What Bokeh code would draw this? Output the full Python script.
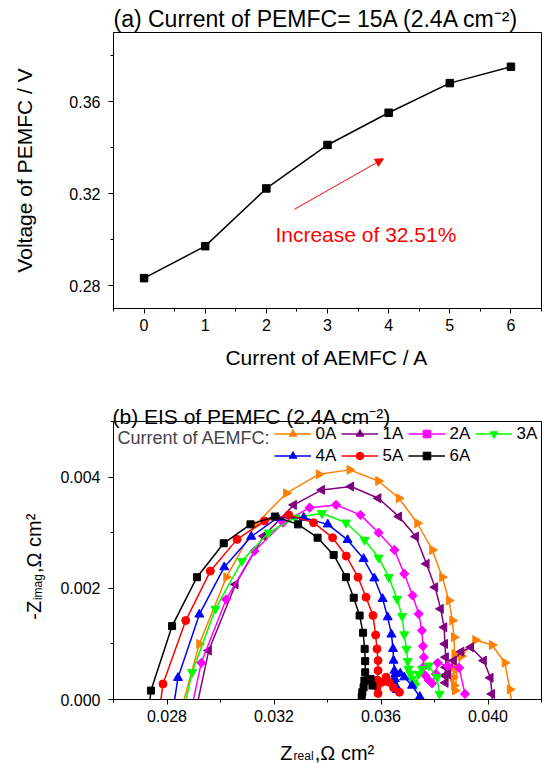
import math
from bokeh.plotting import figure
from bokeh.models import (FixedTicker, PrintfTickFormatter, Label, Arrow, NormalHead,
                          Legend, LegendItem, Range1d, Title)
from bokeh.layouts import column
from bokeh.embed import file_html
from bokeh.resources import INLINE

FONT = "Liberation Sans"

# ---------------- data: panel (a) ----------------
aemfc_current = [0, 1, 2, 3, 4, 5, 6]
pemfc_voltage = [0.2832, 0.2971, 0.3222, 0.3411, 0.3551, 0.3680, 0.3751]

a_x_ticks = [0, 1, 2, 3, 4, 5, 6]
a_x_minor = [-0.5, 0.5, 1.5, 2.5, 3.5, 4.5, 5.5, 6.5]
a_y_ticks = [0.28, 0.32, 0.36]
a_y_minor = [0.30, 0.34, 0.38]

# ---------------- data: panel (b) EIS ----------------
zr_0A = [0.02852, 0.02921, 0.03022, 0.03130, 0.03246, 0.03368, 0.03483, 0.03590, 0.03667, 0.03736,
         0.03792, 0.03829, 0.03854, 0.03867, 0.03873, 0.03875, 0.03873, 0.03870, 0.03873, 0.03877,
         0.03885, 0.03900, 0.03953, 0.04015, 0.04063, 0.04082, 0.04092]
zi_0A = [-0.0002, 0.00100, 0.00220, 0.00314, 0.00371, 0.00405, 0.00413, 0.00393, 0.00362, 0.00317,
         0.00269, 0.00220, 0.00178, 0.00142, 0.00112, 0.00082, 0.00058, 0.00040, 0.00025, 0.00016,
         0.00055, 0.00078, 0.00107, 0.00098, 0.00066, 0.00018, -0.0002]

zr_1A = [0.02908, 0.02956, 0.03056, 0.03161, 0.03274, 0.03379, 0.03488, 0.03590, 0.03667, 0.03730,
         0.03770, 0.03802, 0.03823, 0.03836, 0.03839, 0.03842, 0.03842, 0.03839, 0.03841, 0.03850,
         0.03872, 0.03900, 0.03936, 0.03984, 0.04009, 0.04015, 0.04016]
zi_1A = [-0.0002, 0.00088, 0.00207, 0.00294, 0.00350, 0.00377, 0.00383, 0.00362, 0.00329, 0.00293,
         0.00244, 0.00202, 0.00163, 0.00130, 0.00100, 0.00076, 0.00058, 0.00043, 0.00030, 0.00045,
         0.00070, 0.00086, 0.00094, 0.00070, 0.00039, 0.00010, -0.0002]

zr_2A = [0.02890, 0.02928, 0.03021, 0.03127, 0.03234, 0.03333, 0.03432, 0.03523, 0.03591, 0.03650,
         0.03687, 0.03718, 0.03741, 0.03753, 0.03757, 0.03760, 0.03757, 0.03766, 0.03778, 0.03791,
         0.03805, 0.03812, 0.03850, 0.03892, 0.03914]
zi_2A = [-0.0002, 0.00066, 0.00180, 0.00267, 0.00318, 0.00345, 0.00350, 0.00332, 0.00300, 0.00269,
         0.00226, 0.00187, 0.00154, 0.00124, 0.00096, 0.00076, 0.00058, 0.00043, 0.00035, 0.00029,
         0.00046, 0.00066, 0.00060, 0.00057, 0.00010]

zr_3A = [0.02862, 0.02894, 0.02981, 0.03080, 0.03180, 0.03280, 0.03379, 0.03469, 0.03539, 0.03591,
         0.03629, 0.03660, 0.03679, 0.03687, 0.03695, 0.03700, 0.03703, 0.03710, 0.03716, 0.03722,
         0.03728, 0.03741, 0.03753, 0.03778, 0.03809, 0.03819]
zi_3A = [-0.0002, 0.00049, 0.00163, 0.00249, 0.00300, 0.00327, 0.00335, 0.00318, 0.00287, 0.00255,
         0.00220, 0.00181, 0.00150, 0.00117, 0.00091, 0.00069, 0.00055, 0.00046, 0.00037, 0.00029,
         0.00025, 0.00046, 0.00055, 0.00061, 0.00040, 0.00010]

zr_4A = [0.02822, 0.02841, 0.02921, 0.03014, 0.03115, 0.03214, 0.03311, 0.03401, 0.03475, 0.03535,
         0.03575, 0.03606, 0.03625, 0.03639, 0.03645, 0.03647, 0.03650, 0.03652, 0.03655, 0.03660,
         0.03645, 0.03654, 0.03672, 0.03687, 0.03716, 0.03745]
zi_4A = [-0.0002, 0.00039, 0.00153, 0.00238, 0.00293, 0.00327, 0.00327, 0.00315, 0.00287, 0.00253,
         0.00218, 0.00181, 0.00148, 0.00117, 0.00091, 0.00070, 0.00052, 0.00037, 0.00025, 0.00017,
         0.00034, 0.00046, 0.00047, 0.00040, 0.00025, 0.00005]

zr_5A = [0.02772, 0.02785, 0.02870, 0.02962, 0.03062, 0.03164, 0.03255, 0.03348, 0.03419, 0.03470,
         0.03514, 0.03544, 0.03570, 0.03580, 0.03585, 0.03589, 0.03589, 0.03586, 0.03586, 0.03589,
         0.03604, 0.03619, 0.03630, 0.03647, 0.03669]
zi_5A = [-0.0002, 0.00028, 0.00142, 0.00231, 0.00288, 0.00321, 0.00332, 0.00318, 0.00291, 0.00258,
         0.00220, 0.00184, 0.00151, 0.00116, 0.00091, 0.00070, 0.00052, 0.00035, 0.00023, 0.00011,
         0.00031, 0.00040, 0.00031, 0.00021, 0.00013]

zr_6A = [0.02732, 0.02740, 0.02819, 0.02912, 0.03012, 0.03112, 0.03203, 0.03290, 0.03363, 0.03423,
         0.03469, 0.03498, 0.03520, 0.03533, 0.03539, 0.03541, 0.03541, 0.03538, 0.03535, 0.03530,
         0.03528, 0.03549, 0.03561, 0.03568]
zi_6A = [-0.0002, 0.00016, 0.00132, 0.00220, 0.00281, 0.00315, 0.00329, 0.00315, 0.00291, 0.00260,
         0.00220, 0.00183, 0.00151, 0.00120, 0.00091, 0.00069, 0.00049, 0.00034, 0.00022, 0.00013,
         0.00005, 0.00034, 0.00037, 0.00025]

series_names = ["0A", "1A", "2A", "3A", "4A", "5A", "6A"]
series_zr = [zr_0A, zr_1A, zr_2A, zr_3A, zr_4A, zr_5A, zr_6A]
series_zi = [zi_0A, zi_1A, zi_2A, zi_3A, zi_4A, zi_5A, zi_6A]
series_colors = ["#FF8000", "#800080", "#FF00FF", "#00FF00", "#0000FF", "#FF0000", "#000000"]
series_markers = ["triangle", "triangle", "square", "inverted_triangle", "triangle", "circle", "square"]
series_angles = [-math.pi / 2, math.pi / 2, math.pi / 4, 0.0, 0.0, 0.0, 0.0]
series_sizes = [9, 9, 6.5, 9, 9, 8, 7]

b_x_ticks = [0.028, 0.032, 0.036, 0.040]
b_x_minor = [0.026, 0.030, 0.034, 0.038, 0.042]
b_y_ticks = [0.000, 0.002, 0.004]
b_y_minor = [0.001, 0.003, 0.005]

# ---------------- helpers ----------------
NB = "\u00a0"
W = {' ': 278, NB: 278, '(': 333, ')': 333, '-': 333, '.': 278, ',': 278, '/': 278,
     ':': 278, '=': 584, '%': 889, 'A': 667, 'C': 722, 'E': 667, 'F': 611, 'I': 278,
     'M': 833, 'P': 667, 'S': 667, 'V': 667, 'Z': 611, 'a': 556, 'b': 556, 'c': 500,
     'e': 556, 'f': 278, 'g': 556, 'i': 222, 'l': 222, 'm': 833, 'n': 556, 'o': 556,
     'r': 333, 's': 500, 't': 278, 'u': 556, '\u03a9': 768, '\u00b2': 333}


def tw(s, size):
    return sum(W.get(c, 556) for c in s) * size / 1000.0


def style(p, xfmt, yfmt):
    for ax in (p.xaxis[0], p.yaxis[0]):
        ax.axis_line_color = "black"
        ax.axis_line_width = 1
        ax.major_tick_line_color = "black"
        ax.minor_tick_line_color = "black"
        ax.major_tick_in = 0
        ax.major_tick_out = 5
        ax.minor_tick_in = 0
        ax.minor_tick_out = 3
        ax.major_label_text_font = FONT
        ax.major_label_text_font_size = "16px"
        ax.major_label_text_color = "black"
        ax.axis_label_text_font = FONT
        ax.axis_label_text_font_style = "normal"
        ax.axis_label_text_color = "black"
    p.xaxis[0].major_label_standoff = 5
    p.yaxis[0].major_label_standoff = 8
    p.xaxis[0].formatter = PrintfTickFormatter(format=xfmt)
    p.yaxis[0].formatter = PrintfTickFormatter(format=yfmt)
    p.xgrid.visible = False
    p.ygrid.visible = False
    p.outline_line_color = "black"
    p.outline_line_width = 1
    p.outline_line_alpha = 1
    p.background_fill_color = "white"
    p.border_fill_color = "white"


# ---------------- panel (a) ----------------
FW, FH1 = 428, 276
p1 = figure(width=543, height=376, x_range=Range1d(-0.5, 6.5),
            y_range=Range1d(0.27, 0.39), output_backend="svg", toolbar_location=None,
            min_border_left=113, min_border_right=2, min_border_top=32, min_border_bottom=68)
p1.title = Title(text="(a) Current of PEMFC= 15A (2.4A cm\u207b\u00b2)", align="left",
                 text_font=FONT, text_font_size="23px", text_font_style="normal",
                 text_color="black", standoff=1, offset=0)
p1.xaxis[0].ticker = FixedTicker(ticks=a_x_ticks, minor_ticks=a_x_minor)
p1.yaxis[0].ticker = FixedTicker(ticks=a_y_ticks, minor_ticks=a_y_minor)
style(p1, "%d", "%.2f")
p1.xaxis[0].axis_label = "Current of AEMFC / A"
p1.xaxis[0].axis_label_text_font_size = "21px"
p1.xaxis[0].axis_label_standoff = 12
p1.yaxis[0].axis_label = "Voltage of PEMFC / V"
p1.yaxis[0].axis_label_text_font_size = "21px"
p1.yaxis[0].axis_label_standoff = 30

p1.line(aemfc_current, pemfc_voltage, line_color="black", line_width=1.5)
p1.scatter(aemfc_current, pemfc_voltage, marker="square", size=7.5,
           fill_color="black", line_color="black")

arrow_start = (2.458, 0.3131)
arrow_end = (3.915, 0.3351)
p1.add_layout(Arrow(end=NormalHead(size=8, fill_color="#FF0000", line_color="#FF0000", line_width=1),
                    x_start=arrow_start[0], y_start=arrow_start[1],
                    x_end=arrow_end[0], y_end=arrow_end[1],
                    line_color="#FF0000", line_width=1))
p1.add_layout(Label(x=2.148, y=0.302, text="Increase of 32.51%", text_color="#FF0000",
                    text_font=FONT, text_font_size="21px", text_align="left",
                    text_baseline="alphabetic"))

# ---------------- panel (b) ----------------
FH2 = 278
BX0, BX1, BY0, BY1 = 0.026, 0.042, 0.0, 0.005
p2 = figure(width=543, height=387, title=None, x_range=Range1d(BX0, BX1),
            y_range=Range1d(BY0, BY1), output_backend="svg", toolbar_location=None,
            min_border_left=113, min_border_right=2, min_border_top=45, min_border_bottom=64)
p2.xaxis[0].ticker = FixedTicker(ticks=b_x_ticks, minor_ticks=b_x_minor)
p2.yaxis[0].ticker = FixedTicker(ticks=b_y_ticks, minor_ticks=b_y_minor)
style(p2, "%.3f", "%.3f")

items = []
for name, xs, ys, col, mk, ang, sz in zip(series_names, series_zr, series_zi, series_colors,
                                          series_markers, series_angles, series_sizes):
    lr = p2.line(xs, ys, line_color=col, line_width=1.5)
    sr = p2.scatter(xs, ys, marker=mk, angle=ang, size=sz, fill_color=col, line_color=col)
    items.append(LegendItem(label=name, renderers=[lr, sr]))

legend = Legend(items=items, location=(160.6, 233.5), orientation="horizontal", ncols=4,
                label_text_font=FONT, label_text_font_size="17px", label_text_color="black",
                glyph_width=37, glyph_height=19, label_height=19, label_width=23,
                label_standoff=5, spacing=2, padding=0, margin=0,
                border_line_color=None, background_fill_alpha=0)
p2.add_layout(legend)
p2.add_layout(Label(x=4, y=FH2 - 16.7, x_units="screen", y_units="screen",
                    text="Current of AEMFC:", text_font=FONT, text_font_size="18px",
                    text_align="left", text_baseline="middle"))

px_per_x = FW / (BX1 - BX0)
px_per_y = FH2 / (BY1 - BY0)

# title (b): label in the top side panel, positioned in data units
p2.add_layout(Label(x=BX0 - 1 / px_per_x, y=BY1 + 5.3 / px_per_y,
                    text="(b) EIS of PEMFC (2.4A cm\u207b\u00b2)", text_font=FONT,
                    text_font_size="21px", text_color="black", text_align="left",
                    text_baseline="alphabetic"), "above")

# y label: rotated main text with a gap, subscript "imag" placed in the gap (left side panel)
y_main = "-Z" + NB * 5 + ",\u03a9 cm\u00b2"
y_center = 133.0
y_start = y_center - tw(y_main, 20) / 2
p2.add_layout(Label(x=BX0 - 79.4 / px_per_x, y=BY0 + y_start / px_per_y,
                    text=y_main, text_font=FONT, text_font_size="20px", text_color="black",
                    text_align="left", text_baseline="alphabetic", angle=math.pi / 2), "left")
p2.add_layout(Label(x=BX0 - 75.4 / px_per_x, y=BY0 + (y_start + tw("-Z", 20) + 0.8) / px_per_y,
                    text="imag", text_font=FONT, text_font_size="12px", text_color="black",
                    text_align="left", text_baseline="alphabetic", angle=math.pi / 2), "left")

# x label: main text and subscript "real" in the bottom side panel, data units
x_main = "Z" + NB * 4 + ",\u03a9 cm\u00b2"
x_start = FW / 2 - tw(x_main, 20) / 2
p2.add_layout(Label(x=BX0 + x_start / px_per_x, y=BY0 - 53.0 / px_per_y,
                    text=x_main, text_font=FONT, text_font_size="20px", text_color="black",
                    text_align="left", text_baseline="alphabetic"), "below")
p2.add_layout(Label(x=BX0 + (x_start + tw("Z", 20) + 1) / px_per_x, y=BY0 - 56.0 / px_per_y,
                    text="real", text_font=FONT, text_font_size="12px", text_color="black",
                    text_align="left", text_baseline="alphabetic"), "below")

layout = column(p1, p2)
open("out.html", "w").write(file_html(layout, INLINE))
